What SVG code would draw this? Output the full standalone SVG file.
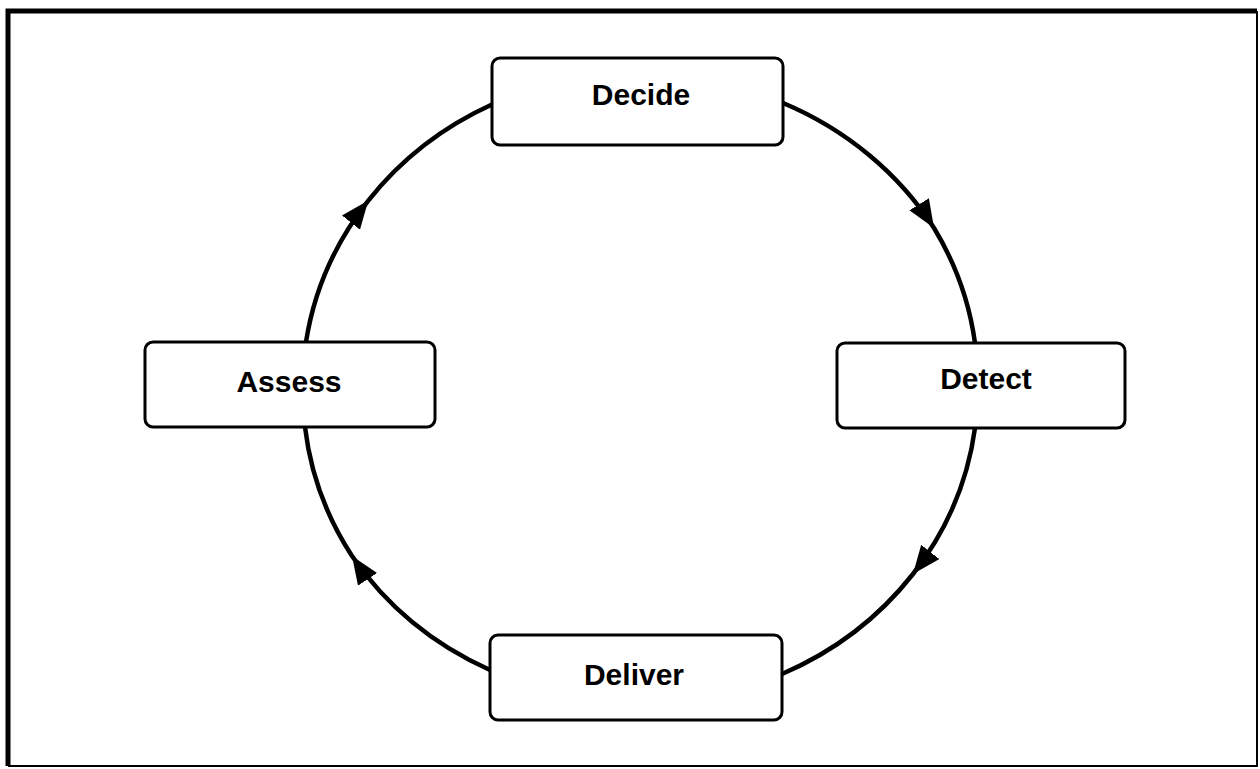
<svg xmlns="http://www.w3.org/2000/svg" width="1260" height="769" viewBox="0 0 1260 769">
  <style>
    .box { fill: #ffffff; stroke: #000000; stroke-width: 3; }
    .label { font-family: "Liberation Sans", Arial, sans-serif; font-weight: bold; font-size: 30px; fill: #000000; text-anchor: middle; }
    .arc { fill: none; stroke: #000000; stroke-width: 4.5; marker-mid: url(#arrow); }
    .frame-heavy { stroke: #000000; stroke-width: 5; fill: none; }
    .frame-light { stroke: #000000; stroke-width: 2; fill: none; }
  </style>
  <defs>
    <marker id="arrow" markerUnits="userSpaceOnUse" markerWidth="32" markerHeight="26" refX="28" refY="11.5" orient="auto" viewBox="0 0 32 26">
      <path d="M0,0 L28,11.5 L0,23 Z" fill="#000000"/>
    </marker>
  </defs>

  <rect x="0" y="0" width="1260" height="769" fill="#ffffff"/>

  <!-- page frame -->
  <g id="frame">
    <path class="frame-light" d="M1257,11 L1257,766 L8,766"/>
    <path class="frame-heavy" d="M8,766 L8,11 L1257,11"/>
  </g>

  <!-- cycle connectors: elliptical arcs, centre (640,388), rx 338, ry 315 -->
  <g id="connectors">
    <path id="decide-detect" class="arc" d="M783,103 A338,315 0 0 1 934,228 A338,315 0 0 1 975,343"/>
    <path id="detect-deliver" class="arc" d="M975,428 A338,315 0 0 1 913,574 A338,315 0 0 1 782,674"/>
    <path id="deliver-assess" class="arc" d="M490,670 A338,315 0 0 1 352,556 A338,315 0 0 1 305,427"/>
    <path id="assess-decide" class="arc" d="M306,342 A338,315 0 0 1 368.3,200.6 A338,315 0 0 1 493,104"/>
  </g>

  <g id="decide">
    <rect class="box" x="492" y="58" width="291" height="87" rx="8" ry="8"/>
    <text class="label" x="641" y="105">Decide</text>
  </g>

  <g id="detect">
    <rect class="box" x="837" y="343" width="288" height="85" rx="8" ry="8"/>
    <text class="label" x="986" y="389">Detect</text>
  </g>

  <g id="deliver">
    <rect class="box" x="490" y="635" width="292" height="85" rx="8" ry="8"/>
    <text class="label" x="634" y="685">Deliver</text>
  </g>

  <g id="assess">
    <rect class="box" x="145" y="342" width="290" height="85" rx="8" ry="8"/>
    <text class="label" x="289" y="392">Assess</text>
  </g>
</svg>
